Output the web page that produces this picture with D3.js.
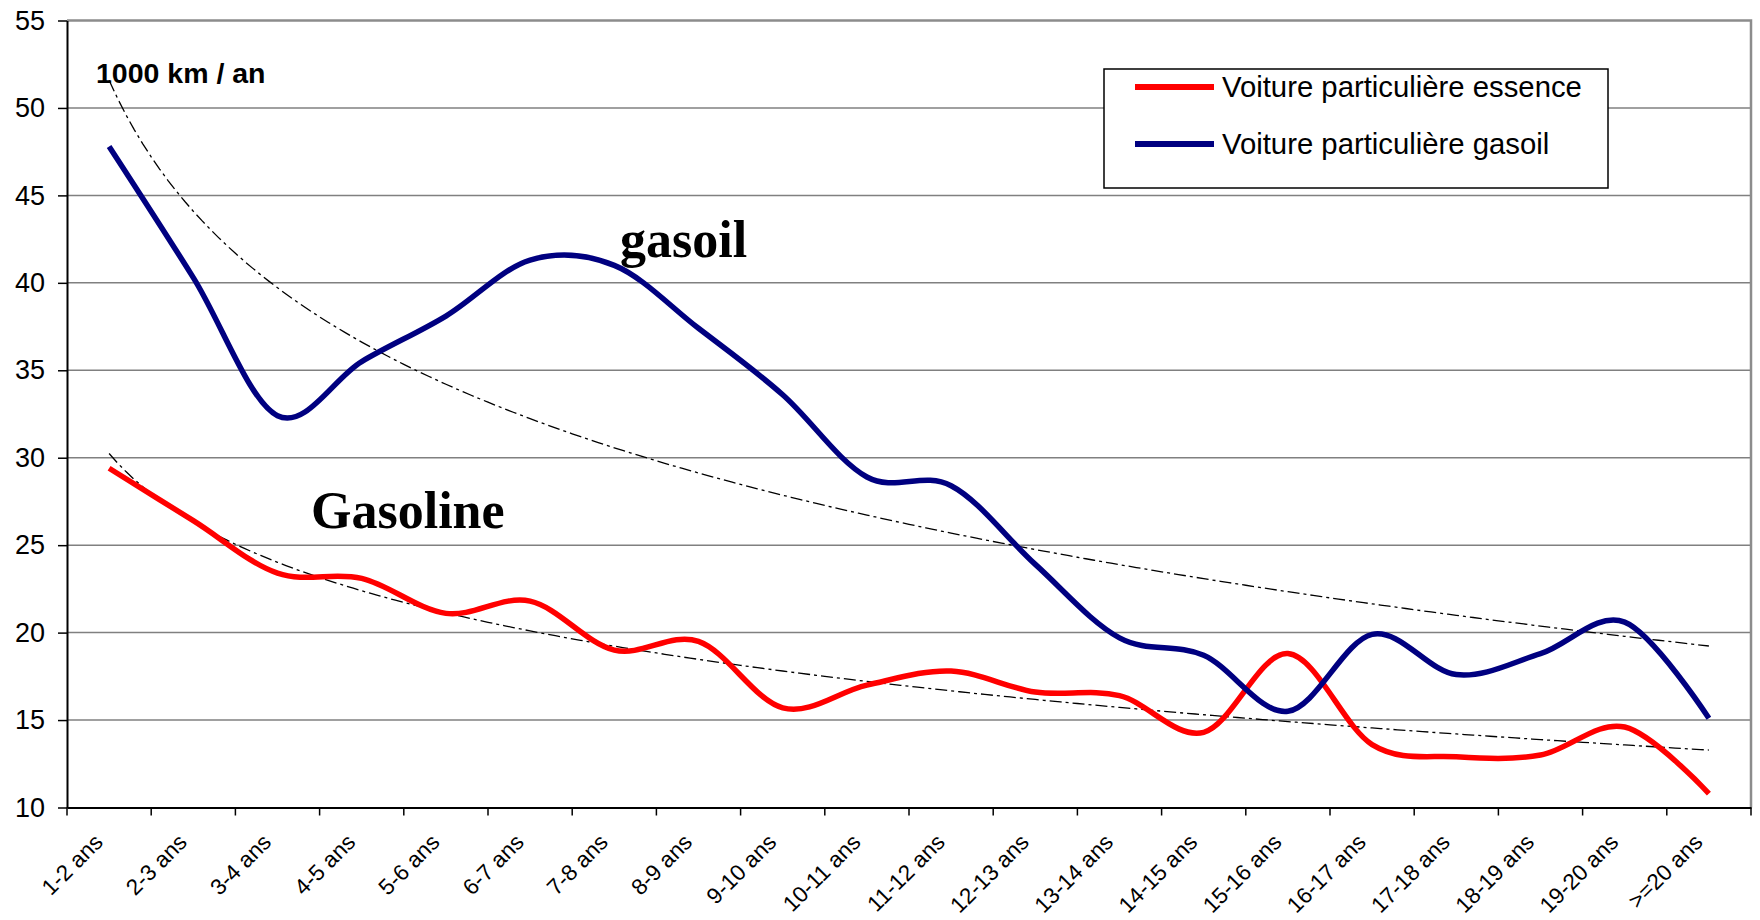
<!DOCTYPE html>
<html>
<head>
<meta charset="utf-8">
<script src="https://cdn.jsdelivr.net/npm/d3@7"></script>
<style>
body { margin: 0; background: #fff; }
text { font-family: "Liberation Sans", Arial, sans-serif; fill: #000; }
</style>
</head>
<body>
<svg id="chart" width="1760" height="920"></svg>
<script>
// age classes of the cars
var categories = ["1-2 ans", "2-3 ans", "3-4 ans", "4-5 ans", "5-6 ans", "6-7 ans", "7-8 ans",
	"8-9 ans", "9-10 ans", "10-11 ans", "11-12 ans", "12-13 ans", "13-14 ans", "14-15 ans",
	"15-16 ans", "16-17 ans", "17-18 ans", "18-19 ans", "19-20 ans", ">=20 ans"];

// 1000 km / an
var essence = [29.4, 26.4, 23.4, 23.1, 21.1, 21.8, 19.0, 19.5, 15.7, 17.0,
	17.8, 16.6, 16.4, 14.3, 18.8, 13.6, 12.9, 13.0, 14.6, 10.8];
var gasoil = [47.8, 40.3, 32.4, 35.5, 38.1, 41.3, 41.0, 37.4, 33.6, 28.9,
	28.4, 23.9, 19.7, 18.7, 15.5, 19.9, 17.6, 18.8, 20.6, 15.1];

var yTicks = [10, 15, 20, 25, 30, 35, 40, 45, 50, 55];

var plotLeft = 67, plotRight = 1751, plotTop = 20.5, plotBottom = 807.5;

var svg = d3.select("#chart");

var x = d3.scaleBand().domain(categories).range([plotLeft, plotRight]);
var y = d3.scaleLinear().domain([10, 55]).range([plotBottom, plotTop]);

function cx(i) {
	return x(categories[i]) + x.bandwidth() / 2;
}

// gridlines
svg.append("g").selectAll("line")
	.data(yTicks.filter(function(d) { return d > 10 && d < 55; }))
	.enter().append("line")
	.attr("x1", plotLeft).attr("x2", plotRight)
	.attr("y1", function(d) { return y(d); })
	.attr("y2", function(d) { return y(d); })
	.attr("stroke", "#808080")
	.attr("stroke-width", 1.5);

// top and right border
svg.append("path")
	.attr("d", "M" + plotLeft + "," + y(55) + "H" + plotRight + "V" + plotBottom)
	.attr("fill", "none")
	.attr("stroke", "#8c8c8c")
	.attr("stroke-width", 2.5);

// y axis
var yAxis = svg.append("g")
	.attr("transform", "translate(" + plotLeft + ",0)")
	.call(d3.axisLeft(y).tickValues(yTicks).tickSize(9).tickPadding(13).tickSizeOuter(0));
yAxis.select(".domain").attr("stroke", "#000").attr("stroke-width", 2);
yAxis.selectAll(".tick line").attr("stroke", "#000").attr("stroke-width", 1.5);
yAxis.selectAll("text").style("font-size", "27px").attr("font-family", null);

// x axis
var xAxis = svg.append("g")
	.attr("transform", "translate(0," + plotBottom + ")")
	.call(d3.axisBottom(x).tickSize(0).tickSizeOuter(0));
xAxis.select(".domain").attr("stroke", "#000").attr("stroke-width", 2);
xAxis.selectAll("text")
	.style("font-size", "22.5px")
	.style("text-anchor", "end")
	.attr("x", 0).attr("y", 0).attr("dy", 0)
	.attr("transform", "translate(-5,36) rotate(-45)");

// tick marks between categories
var bounds = categories.map(function(c) { return x(c); }).concat([plotRight]);
svg.append("g").selectAll("line")
	.data(bounds)
	.enter().append("line")
	.attr("x1", function(d) { return d; }).attr("x2", function(d) { return d; })
	.attr("y1", plotBottom).attr("y2", plotBottom + 8)
	.attr("stroke", "#000")
	.attr("stroke-width", 1.5);

// logarithmic trend (least squares, like the spreadsheet trendline)
function logFit(values) {
	var n = values.length, sl = 0, sv = 0, sll = 0, slv = 0;
	values.forEach(function(v, i) {
		var l = Math.log(i + 1);
		sl += l; sv += v; sll += l * l; slv += l * v;
	});
	var b = (n * slv - sl * sv) / (n * sll - sl * sl);
	var a = (sv - b * sl) / n;
	return function(t) { return a + b * Math.log(t); };
}

function trendPoints(values) {
	var f = logFit(values), pts = [];
	for (var t = 1; t <= values.length + 0.001; t += 0.1) {
		pts.push([x(categories[0]) + x.bandwidth() * (t - 0.5), y(f(t))]);
	}
	return pts;
}

var trendLine = d3.line();
[essence, gasoil].forEach(function(s) {
	svg.append("path")
		.attr("d", trendLine(trendPoints(s)))
		.attr("fill", "none")
		.attr("stroke", "#000")
		.attr("stroke-width", 1.3)
		.attr("stroke-dasharray", "12,4,3,4");
});

// series
var line = d3.line()
	.x(function(d, i) { return cx(i); })
	.y(function(d) { return y(d); })
	.curve(d3.curveCatmullRom.alpha(0));

svg.append("path")
	.attr("d", line(essence))
	.attr("fill", "none")
	.attr("stroke", "#ff0000")
	.attr("stroke-width", 5.5);

svg.append("path")
	.attr("d", line(gasoil))
	.attr("fill", "none")
	.attr("stroke", "#000080")
	.attr("stroke-width", 5.5);

// legend
var legend = svg.append("g");
legend.append("rect")
	.attr("x", 1104).attr("y", 69)
	.attr("width", 504).attr("height", 119)
	.attr("fill", "#fff")
	.attr("stroke", "#000")
	.attr("stroke-width", 1.5);

var legendItems = [
	{ label: "Voiture particulière essence", color: "#ff0000" },
	{ label: "Voiture particulière gasoil", color: "#000080" }
];
legendItems.forEach(function(d, i) {
	var ly = 87 + i * 57;
	legend.append("line")
		.attr("x1", 1135).attr("x2", 1214)
		.attr("y1", ly).attr("y2", ly)
		.attr("stroke", d.color)
		.attr("stroke-width", 6);
	legend.append("text")
		.attr("x", 1222).attr("y", ly)
		.attr("dy", "0.35em")
		.style("font-size", "29.3px")
		.text(d.label);
});

// annotations
svg.append("text")
	.attr("x", 96).attr("y", 83)
	.style("font-size", "28.5px")
	.style("font-weight", "bold")
	.text("1000 km / an");

svg.append("text")
	.attr("x", 620).attr("y", 257)
	.style("font-family", "'Liberation Serif', 'Times New Roman', serif")
	.style("font-size", "52px")
	.style("font-weight", "bold")
	.text("gasoil");

svg.append("text")
	.attr("x", 311).attr("y", 528)
	.style("font-family", "'Liberation Serif', 'Times New Roman', serif")
	.style("font-size", "52px")
	.style("font-weight", "bold")
	.text("Gasoline");
</script>
</body>
</html>
